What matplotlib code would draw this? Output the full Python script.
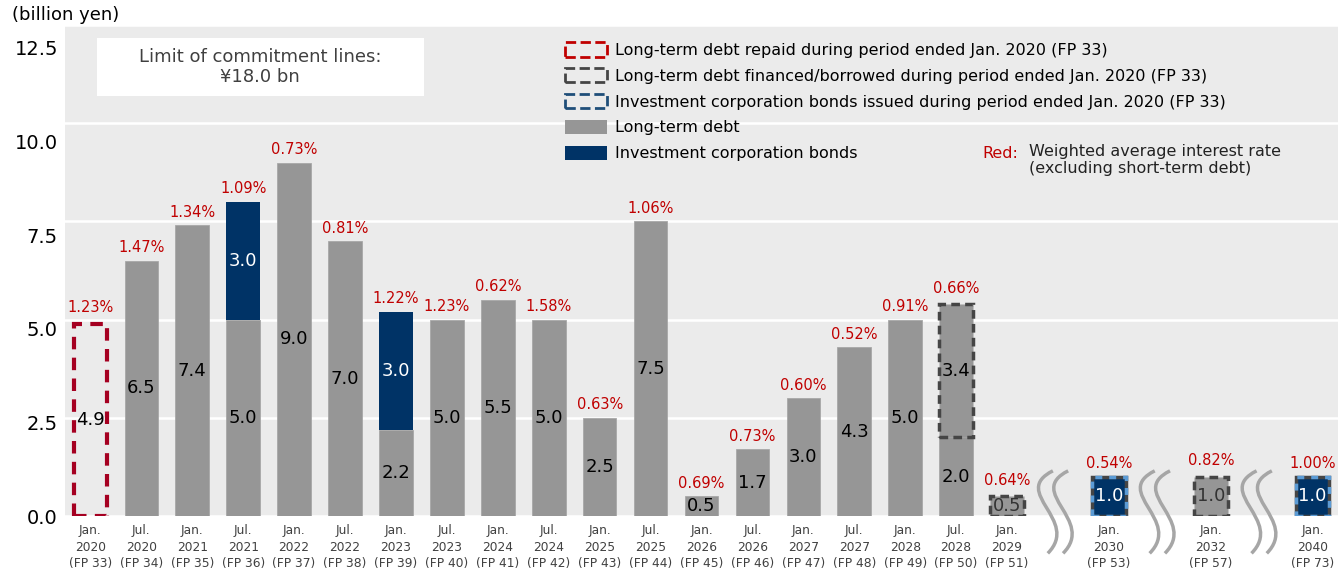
import matplotlib
matplotlib.use('Agg')
import matplotlib.pyplot as plt
import matplotlib.transforms as mtransforms
from matplotlib.patches import Patch, Rectangle, PathPatch
from matplotlib.path import Path

labels = ['Jan.\n2020\n(FP 33)', 'Jul.\n2020\n(FP 34)', 'Jan.\n2021\n(FP 35)', 'Jul.\n2021\n(FP 36)',
          'Jan.\n2022\n(FP 37)', 'Jul.\n2022\n(FP 38)', 'Jan.\n2023\n(FP 39)', 'Jul.\n2023\n(FP 40)',
          'Jan.\n2024\n(FP 41)', 'Jul.\n2024\n(FP 42)', 'Jan.\n2025\n(FP 43)', 'Jul.\n2025\n(FP 44)',
          'Jan.\n2026\n(FP 45)', 'Jul.\n2026\n(FP 46)', 'Jan.\n2027\n(FP 47)', 'Jul.\n2027\n(FP 48)',
          'Jan.\n2028\n(FP 49)', 'Jul.\n2028\n(FP 50)', 'Jan.\n2029\n(FP 51)', 'Jan.\n2030\n(FP 53)',
          'Jan.\n2032\n(FP 57)', 'Jan.\n2040\n(FP 73)']
long_term = [0, 6.5, 7.4, 5.0, 9.0, 7.0, 2.2, 5.0, 5.5, 5.0, 2.5, 7.5, 0.5, 1.7, 3.0, 4.3, 5.0, 2.0, 0, 0, 0, 0]
bonds = [0, 0, 0, 3.0, 0, 0, 3.0, 0, 0, 0, 0, 0, 0, 0, 0, 0, 0, 0, 0, 0, 0, 0]
repaid = [4.9, 0, 0, 0, 0, 0, 0, 0, 0, 0, 0, 0, 0, 0, 0, 0, 0, 0, 0, 0, 0, 0]
financed = [0, 0, 0, 0, 0, 0, 0, 0, 0, 0, 0, 0, 0, 0, 0, 0, 0, 3.4, 0.5, 0, 1.0, 0]
bonds_issued = [0, 0, 0, 0, 0, 0, 0, 0, 0, 0, 0, 0, 0, 0, 0, 0, 0, 0, 0, 1.0, 0, 1.0]
rates = ['1.23%', '1.47%', '1.34%', '1.09%', '0.73%', '0.81%', '1.22%', '1.23%', '0.62%', '1.58%', '0.63%',
         '1.06%', '0.69%', '0.73%', '0.60%', '0.52%', '0.91%', '0.66%', '0.64%', '0.54%', '0.82%', '1.00%']
yticks = [0, 2.5, 5, 7.5, 10, 12.5]

GRAY, NAVY, RED, DARK, BLUE = '#969696', '#003366', '#c00000', '#454545', '#5b9bd5'
plt.rcParams['font.family'] = 'DejaVu Sans'

# first 19 periods consecutive, then a gap (squiggle) before each later one
pos = list(range(19)) + [20, 22, 24]
gaps = [19, 21, 23]

fig = plt.figure(figsize=(13.39, 5.71), dpi=100)
ax = fig.add_axes([0.0485, 0.0963, 0.9508, 0.8597])
ax.set_facecolor('#ebebeb')
for s in ax.spines.values(): s.set_visible(False)
ax.set_ylim(0, 12.5); ax.set_xlim(-0.5, 24.5)
ax.set_yticks(yticks); ax.set_yticklabels([f'{v:.1f}' for v in yticks])
ax.grid(axis='y', color='white', lw=1.8); ax.set_axisbelow(True)
ax.tick_params(axis='y', length=0, labelsize=14, pad=5)
# the original's value labels sit a little below their gridlines, more so higher up
for lab, v in zip(ax.get_yticklabels(), yticks):
    lab.set_transform(lab.get_transform() + mtransforms.ScaledTranslation(0, -v * 1.3 / 72, fig.dpi_scale_trans))
ax.set_xticks(pos); ax.set_xticklabels(labels, fontsize=8.8, color='#404040', linespacing=1.35)
ax.tick_params(axis='x', length=0, pad=6)

w = 0.66
bot2 = [a + b for a, b in zip(long_term, bonds)]
def bars(vals, bottom=None, **kw):
    idx = [i for i, v in enumerate(vals) if v]
    ax.bar([pos[i] for i in idx], [vals[i] for i in idx], w,
           bottom=None if bottom is None else [bottom[i] for i in idx], **kw)
bars(long_term, color=GRAY, edgecolor='#a8a8a8', lw=0.6)
bars(bonds, bottom=long_term, color=NAVY)
bars(repaid, facecolor='none', edgecolor='#a50021', lw=3, linestyle=(0, (3, 2)))
bars(financed, bottom=bot2, color=GRAY, edgecolor=DARK, lw=2.5, linestyle=(0, (2.5, 1.5)))
bars(bonds_issued, color=NAVY, edgecolor=DARK, lw=2.5)
bars(bonds_issued, facecolor='none', edgecolor=BLUE, lw=2.5, linestyle=(0, (2, 2)))

for i, x in enumerate(pos):
    base = 0
    for v, c in ((long_term[i], 'black'), (bonds[i], 'white'), (repaid[i], 'black'),
                 (financed[i], '#333333' if long_term[i] == 0 else 'black'), (bonds_issued[i], 'white')):
        if v:
            ax.text(x, base + v / 2, f'{v:.1f}', ha='center', va='center', fontsize=13, color=c)
            base += v
    top = long_term[i] + bonds[i] + repaid[i] + financed[i] + bonds_issued[i]
    ax.annotate(rates[i], (x, top), xytext=(0, 4 if not repaid[i] and not financed[i] else 6),
                textcoords='offset points', ha='center', va='bottom', fontsize=10.5, color=RED)

# axis-break squiggles
for g in gaps:
    for dx in (-0.15, 0.15):
        verts = [(g + dx + 0.05, 1.15), (g + dx - 0.8, 0.6), (g + dx + 0.6, -0.1), (g + dx - 0.05, -0.95)]
        path = Path(verts, [Path.MOVETO, Path.CURVE4, Path.CURVE4, Path.CURVE4])
        ax.add_patch(PathPatch(path, fc='none', ec='#a6a6a6', lw=2.5, clip_on=False, zorder=5))

# commitment line box
ax.add_patch(Rectangle((0.025, 0.855), 0.257, 0.118, transform=ax.transAxes, fc='white', ec='none', zorder=3))
ax.text(0.1535, 0.914, 'Limit of commitment lines:\n¥18.0 bn', transform=ax.transAxes, ha='center',
        va='center', fontsize=13, color='#404040', zorder=4, linespacing=1.15)

handles = [Patch(fc='none', ec=RED, lw=2, ls='--'), Patch(fc='none', ec=DARK, lw=2, ls='--'),
           Patch(fc='none', ec='#1f4e79', lw=2, ls='--'), Patch(fc=GRAY), Patch(fc=NAVY)]
names = ['Long-term debt repaid during period ended Jan. 2020 (FP 33)',
         'Long-term debt financed/borrowed during period ended Jan. 2020 (FP 33)',
         'Investment corporation bonds issued during period ended Jan. 2020 (FP 33)',
         'Long-term debt', 'Investment corporation bonds']
fig.legend(handles, names, loc='upper left', bbox_to_anchor=(0.422, 0.926), frameon=False, fontsize=11.5,
           handlelength=2.6, handleheight=1.0, handletextpad=0.5, labelspacing=0.64, borderpad=0,
           borderaxespad=0)

fig.text(0.734, 0.732, 'Red:', ha='left', va='center', fontsize=11.5, color=RED)
fig.text(0.7685, 0.748, 'Weighted average interest rate\n(excluding short-term debt)', ha='left', va='top',
         fontsize=11.5, color='#222222', linespacing=1.2)
fig.text(0.009, 1 - 15 / 571, '(billion yen)', ha='left', va='center', fontsize=13)

fig.savefig('out.png', dpi=100)
